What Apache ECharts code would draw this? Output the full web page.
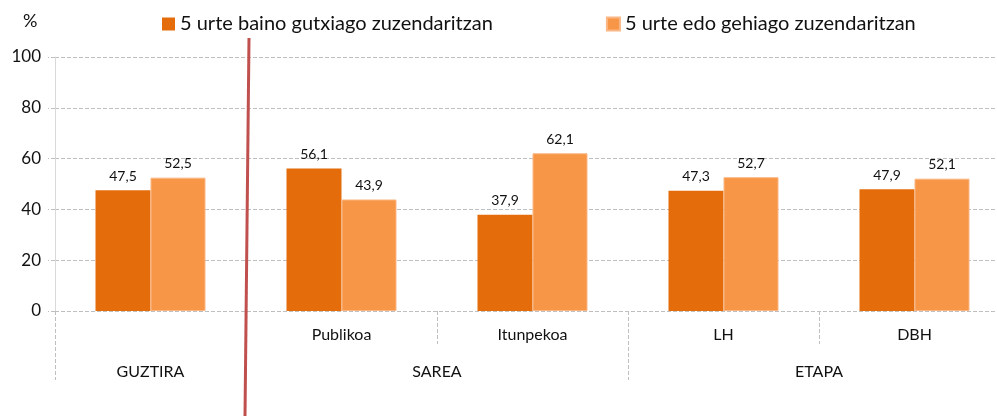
<!DOCTYPE html>
<html>
<head>
<meta charset="utf-8">
<title>Zuzendaritza urteak</title>
<script src="https://cdn.jsdelivr.net/npm/echarts@6/dist/echarts.min.js"></script>
<style>
html, body { margin: 0; padding: 0; background: #fff; }
#container { width: 997px; height: 416px; }
</style>
</head>
<body>
<div id="container"></div>
<script type="text/javascript">

// datuak
var categories = ['', 'Publikoa', 'Itunpekoa', 'LH', 'DBH'];
var groupLabels = { 1: 'GUZTIRA', 4: 'SAREA', 8: 'ETAPA' }; // 0..10 eskalan, kategoria bakoitza 2 unitate
var seriesNames = ['5 urte baino gutxiago zuzendaritzan', '5 urte edo gehiago zuzendaritzan'];
var lessThan5 = [47.5, 56.1, 37.9, 47.3, 47.9];
var fiveOrMore = [52.5, 43.9, 62.1, 52.7, 52.1];
var yTicks = [0, 20, 40, 60, 80, 100];

var font = 'Lato';
var gridCol = '#BFBFBF';

var dom = document.getElementById('container');
var myChart = echarts.init(dom);

function fmt(v) {
	return String(v).replace('.', ',');
}

var labelOpt = {
	show: true,
	position: 'top',
	distance: 7,
	fontFamily: font,
	fontSize: 14,
	color: '#111',
	formatter: function(p) { return fmt(p.value); }
};

var option = {
	animation: false,
	backgroundColor: '#fff',
	title: {
		text: '%',
		left: 18,
		top: 7,
		textStyle: { fontFamily: font, fontSize: 18, fontWeight: 'normal', color: '#111' }
	},
	legend: {
		data: seriesNames,
		left: 157,
		top: 9,
		itemWidth: 13,
		itemHeight: 13,
		itemGap: 113,
		icon: 'rect',
		textStyle: { fontFamily: font, fontSize: 20, color: '#111' }
	},
	grid: { left: 55, top: 57, width: 955, height: 254, containLabel: false, outerBoundsMode: 'none' },
	xAxis: [{
		type: 'category',
		data: categories,
		axisLine: { show: false },
		axisTick: { show: true, length: 33, lineStyle: { color: gridCol, type: 'dashed' } },
		axisLabel: { margin: 16, fontFamily: font, fontSize: 16, color: '#111' }
	}, {
		type: 'value',
		min: 0,
		max: 10,
		position: 'bottom',
		axisLine: { show: false },
		splitLine: { show: false },
		axisTick: { show: true, length: 69, customValues: [0, 2, 6], lineStyle: { color: gridCol, type: 'dashed' } },
		axisLabel: {
			margin: 53,
			fontFamily: font,
			fontSize: 16,
			color: '#111',
			customValues: [1, 4, 8],
			formatter: function(v) { return groupLabels[v] || ''; }
		}
	}],
	yAxis: {
		type: 'value',
		min: yTicks[0],
		max: yTicks[yTicks.length - 1],
		interval: 20,
		axisLine: { show: true, lineStyle: { color: '#D9D9D9' } },
		axisTick: { show: true, length: 7, lineStyle: { color: gridCol, type: 'dashed' } },
		splitLine: { show: true, lineStyle: { color: gridCol, type: 'dashed' } },
		axisLabel: { margin: 14, fontFamily: font, fontSize: 17, color: '#111' }
	},
	series: [{
		name: seriesNames[0],
		type: 'bar',
		data: lessThan5,
		barWidth: 55,
		barGap: '0%',
		itemStyle: { color: '#E46C0A' },
		label: labelOpt
	}, {
		name: seriesNames[1],
		type: 'bar',
		data: fiveOrMore,
		barWidth: 55,
		itemStyle: { color: '#F79646', borderColor: '#FAB785', borderWidth: 1 },
		label: labelOpt
	}],
	graphic: [{
		type: 'line',
		z: 100,
		shape: { x1: 249, y1: 38, x2: 245, y2: 416 },
		style: { stroke: '#C0504D', lineWidth: 3 }
	}]
};

if (option && typeof option === "object") {
	myChart.setOption(option, true);
}
</script>
</body>
</html>
